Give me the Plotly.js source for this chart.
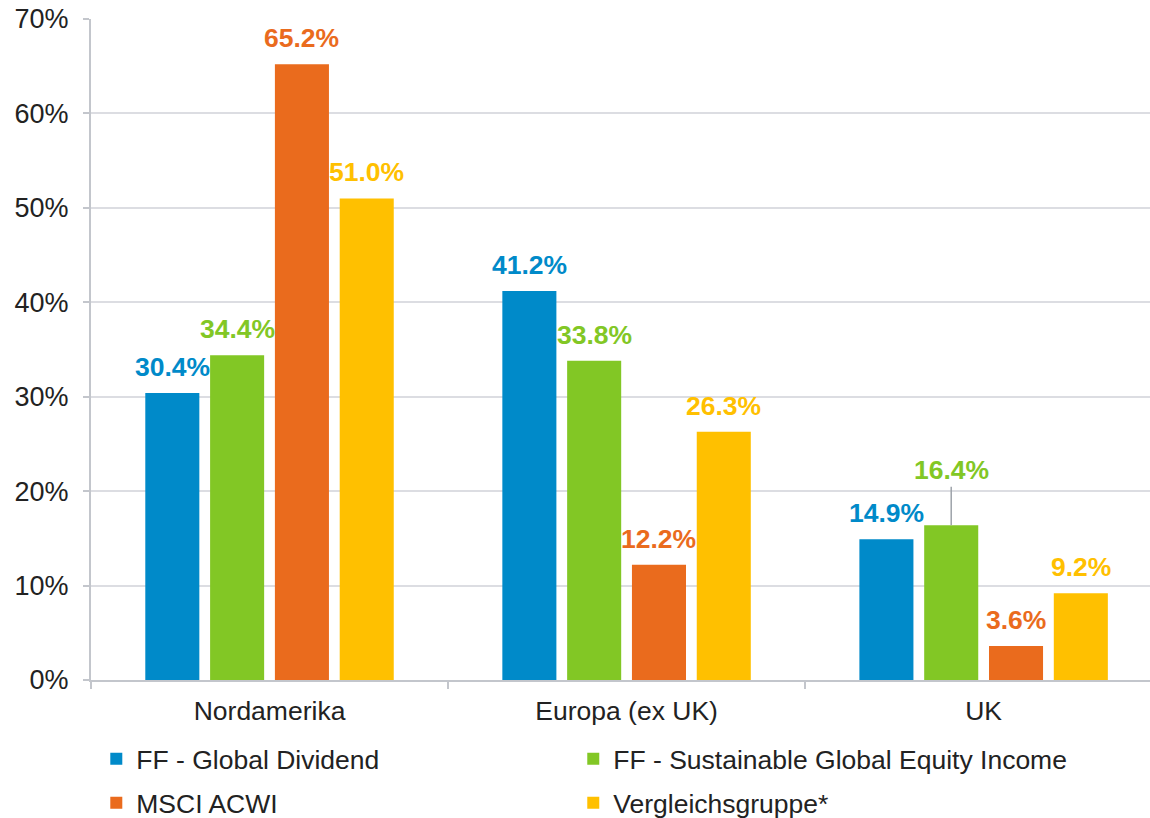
<!DOCTYPE html>
<html><head><meta charset="utf-8">
<script src="https://cdn.plot.ly/plotly-3.0.1.min.js"></script>
<style>html,body{margin:0;padding:0;background:#fff}#chart{width:1150px;height:818px}</style>
</head><body><div id="chart"></div>
<script>
const categories = ["Nordamerika", "Europa (ex UK)", "UK"];
const seriesNames = ["FF - Global Dividend", "FF - Sustainable Global Equity Income", "MSCI ACWI", "Vergleichsgruppe*"];
const globalDividend = [30.4, 41.2, 14.9];
const sustainableIncome = [34.4, 33.8, 16.4];
const msciAcwi = [65.2, 12.2, 3.6];
const peerGroup = [51.0, 26.3, 9.2];
const yTickValues = [0, 10, 20, 30, 40, 50, 60, 70];
const yTickLabels = ["0%", "10%", "20%", "30%", "40%", "50%", "60%", "70%"];

const seriesValues = [globalDividend, sustainableIncome, msciAcwi, peerGroup];
const colors = ["#008AC9", "#82C725", "#EA6B1D", "#FFC000"];
const legendRefs = ["legend", "legend2", "legend3", "legend4"];
// legend placement (paper x, container y) per entry
const legendX = [0.005, 0.4554, 0.005, 0.4554];
const legendY = [1 - 759 / 818, 1 - 759 / 818, 1 - 803 / 818, 1 - 803 / 818];
const FONT = "Liberation Sans, Arial, sans-serif";
const BARGAP = 0.274, BARGROUPGAP = 0.166;
// label with leader line: [series index, category index]
const leaderLabel = [1, 2];

const traces = seriesValues.map((vals, j) => ({
  type: "bar",
  name: seriesNames[j],
  x: categories,
  y: vals,
  legend: legendRefs[j],
  marker: {color: colors[j]},
  hoverinfo: "skip"
}));

const annotations = [];
seriesValues.forEach((vals, j) => {
  vals.forEach((v, i) => {
    const xpos = i + (j - 1.5) * (1 - BARGAP) / 4;
    const isLeader = (j === leaderLabel[0] && i === leaderLabel[1]);
    const a = {
      xref: "x", yref: "y", x: xpos, y: v,
      text: v.toFixed(1) + "%",
      font: {family: FONT, size: 26.5, color: colors[j], weight: "bold"},
      showarrow: false, yanchor: "bottom", yshift: 9
    };
    if (isLeader) {
      Object.assign(a, {showarrow: true, arrowhead: 0, arrowwidth: 1.5, arrowcolor: "#9ea3aa",
        ax: 0, ay: -55, yanchor: "middle", yshift: 0});
    }
    annotations.push(a);
  });
});

const layout = {
  width: 1150, height: 818,
  margin: {l: 91, r: 0, t: 19, b: 138},
  paper_bgcolor: "#fff", plot_bgcolor: "#fff",
  barmode: "group", bargap: BARGAP, bargroupgap: BARGROUPGAP,
  font: {family: FONT, size: 26.5, color: "#222"},
  showlegend: true,
  xaxis: {
    type: "category", range: [-0.5, 2.466], fixedrange: true,
    showline: true, linecolor: "#c3c6cc", linewidth: 2,
    ticks: "outside", tickson: "boundaries", ticklen: 7, tickcolor: "#c3c6cc", tickwidth: 2,
    showgrid: false, ticklabelstandoff: 6,
    tickfont: {family: FONT, size: 26.5, color: "#222"}
  },
  yaxis: {
    range: [0, 70], fixedrange: true,
    tickvals: yTickValues, ticktext: yTickLabels,
    showline: true, linecolor: "#c3c6cc", linewidth: 2,
    ticks: "outside", ticklen: 6, tickcolor: "#c3c6cc", tickwidth: 2,
    showgrid: true, gridcolor: "#dcdde2", gridwidth: 2, zeroline: false,
    ticklabelstandoff: 9,
    tickfont: {family: FONT, size: 27, color: "#222"}
  },
  annotations: annotations
};

legendRefs.forEach((ref, j) => {
  layout[ref] = {
    orientation: "h", xanchor: "left", yanchor: "middle", yref: "container",
    x: legendX[j], y: legendY[j],
    font: {family: FONT, size: 26.5, color: "#222"},
    bgcolor: "rgba(0,0,0,0)"
  };
});

Plotly.newPlot("chart", traces, layout, {displayModeBar: false, staticPlot: true});
</script>
</body></html>
